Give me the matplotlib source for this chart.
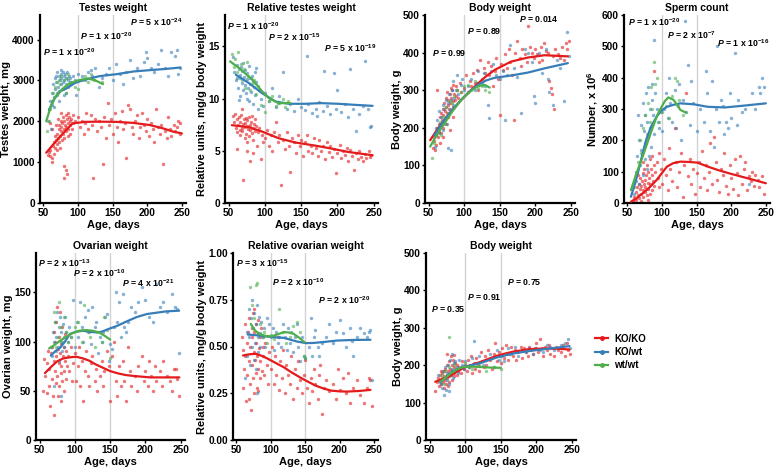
import numpy as np
import matplotlib
matplotlib.use("Agg")
import matplotlib.pyplot as plt
from matplotlib.lines import Line2D

plt.rcParams['font.family'] = ['Liberation Sans', 'DejaVu Sans']
plt.rcParams['font.weight'] = 'bold'
plt.rcParams['mathtext.fontset'] = 'custom'
plt.rcParams['mathtext.rm'] = 'Liberation Sans:bold'
plt.rcParams['mathtext.it'] = 'Liberation Sans:bold:italic'
plt.rcParams['mathtext.bf'] = 'Liberation Sans:bold'

RED, BLUE, GREEN = '#e41a1c', '#377eb8', '#4daf4a'

# ---------------- Panel 1: Testes weight ----------------
p1_red = [(56,1180),(58,1250),(60,1300),(60,1150),(62,1000),(63,1100),(64,1400),(65,1500),(66,1350),(67,1650),(68,1550),(69,1450),(70,1700),(70,1300),(71,1600),(72,1800),(72,1500),(73,1900),(74,1650),(75,1750),(75,2000),(76,1850),(77,1550),(77,1950),(78,2100),(78,1700),(79,1800),(80,2000),(80,1600),(81,1900),(82,2150),(82,1750),(83,1850),(84,2050),(84,700),(85,2200),(85,1950),(86,1800),(86,1650),(87,2100),(88,2000),(88,1700),(89,1900),(90,2050),(91,1800),(92,2150),(93,1950),(95,2000),(80,900),(79,600),(82,800),(65,1200),(68,1900),(74,1350),(76,2200),(71,2050),(60,1950),(62,1800),
          (100,2100),(103,1850),(105,2000),(108,1700),(110,1950),(112,2200),(115,1800),(118,2150),(120,1900),(122,600),(125,2050),(128,1750),(130,2000),(133,1850),(136,950),(138,2100),(140,1600),(143,2450),(145,1900),(148,2050),(150,1700),(153,2200),(156,1850),(158,1500),(160,2000),(163,2250),(165,1800),(168,1950),(170,1100),(172,2400),(175,2300),(178,1850),(180,1700),(183,2000),(185,2150),(188,1600),(190,1850),(193,2200),(195,1900),(198,1750),(200,2050),(203,1650),(205,1950),(208,1800),(210,1500),(213,2300),(215,1850),(218,1700),(220,1900),(223,950),(225,1750),(228,1600),(230,2100),(233,1800),(235,1650),(238,1900),(240,1750),(243,1850),(245,2000),(247,1700),(248,1950)]
p1_blue = [(56,2000),(58,2300),(60,2500),(61,1800),(62,2700),(63,2400),(64,2900),(65,2600),(66,3050),(67,2800),(68,3100),(69,2700),(70,2950),(70,3200),(71,2850),(72,3100),(73,2750),(74,3000),(75,3150),(75,2900),(76,3050),(77,2800),(78,3200),(78,2950),(79,3100),(80,2650),(80,3000),(81,3150),(82,2900),(83,3050),(84,3200),(85,2850),(86,3000),(87,3100),(88,2950),(89,3050),(90,2900),(92,3100),(95,3000),(97,2650),(100,3150),(65,2350),(72,2500),(76,3250),(83,2700),
           (105,3100),(110,3000),(115,3200),(118,3250),(120,3100),(125,3300),(130,2850),(135,3050),(140,3150),(145,3300),(150,3000),(155,3400),(160,3150),(165,2900),(170,3200),(175,3500),(180,3050),(185,3300),(190,3100),(195,3450),(198,3700),(200,3550),(205,3300),(210,3200),(215,3400),(220,3750),(225,3300),(230,3100),(235,3700),(240,3600),(243,3750),(245,3150),(247,3300)]
p1_green = [(55,1750),(58,2000),(60,2300),(62,2500),(64,2700),(66,2850),(68,2950),(70,2650),(72,3000),(74,2900),(76,3100),(78,2800),(80,3000),(82,2700),(84,3050),(86,3150),(88,2900),(90,2950),(95,2850),(100,2800),(105,3000),(110,3100),(115,2950),(118,3150),(120,3050),(123,3000),(135,2950)]
p1_red_fit = [(54,1230),(65,1450),(78,1700),(92,1947),(110,1985),(130,1990),(155,1985),(180,1960),(204,1906),(222,1830),(238,1743),(250,1703)]
p1_blue_fit = [(58,2273),(66,2560),(75,2740),(83,2803),(95,2930),(107,3006),(131,3104),(156,3153),(180,3218),(204,3251),(228,3283),(248,3316)]
p1_green_fit = [(54,2000),(60,2330),(66,2560),(71,2680),(80,2830),(88,2925),(100,3000),(114,3047),(125,3000),(136,2909)]

# ---------------- Panel 2: Relative testes weight ----------------
p2_red = [(56,8.3),(58,7.8),(59,8.5),(60,7.2),(61,8.0),(62,6.8),(63,7.5),(64,8.2),(65,7.0),(66,6.5),(66,7.8),(67,8.4),(68,7.2),(69,6.9),(70,7.6),(70,2.2),(71,8.0),(72,7.3),(72,6.2),(73,7.7),(74,8.1),(74,6.6),(75,7.4),(76,7.9),(76,5.8),(77,7.1),(78,8.2),(78,6.4),(79,7.5),(80,4.0),(80,7.0),(81,7.8),(82,6.7),(82,8.3),(83,7.2),(84,6.0),(85,7.6),(86,8.0),(87,6.9),(88,7.4),(89,5.5),(90,6.8),(92,7.2),(94,4.2),(96,6.5),(98,5.8),(62,5.2),(68,9.0),(75,5.0),(84,4.8),
          (100,6.2),(103,7.0),(105,5.5),(108,6.5),(110,5.0),(112,6.8),(115,7.8),(118,5.8),(120,6.5),(122,1.7),(125,6.0),(128,5.2),(130,6.8),(133,5.5),(135,3.0),(138,6.2),(140,5.8),(143,4.8),(145,6.5),(148,5.5),(150,6.0),(153,4.5),(155,5.8),(158,6.5),(160,5.0),(163,5.5),(165,4.8),(168,6.2),(170,5.3),(173,4.5),(175,6.0),(178,5.0),(180,5.5),(183,4.2),(185,5.8),(188,4.9),(190,5.5),(193,4.4),(195,5.2),(198,2.9),(200,4.8),(203,5.6),(205,4.3),(208,5.0),(210,4.6),(213,5.3),(215,4.0),(218,5.1),(220,4.5),(223,3.2),(225,4.8),(228,4.2),(230,5.0),(233,4.4),(235,4.0),(238,4.7),(240,4.3),(243,5.0),(245,4.4),(247,4.6)]
p2_blue = [(56,14.0),(58,12.5),(60,11.8),(61,13.2),(62,12.0),(63,11.0),(64,12.8),(65,10.2),(66,12.3),(67,13.0),(68,11.5),(69,12.6),(70,10.8),(70,13.4),(71,12.1),(72,11.3),(73,12.7),(74,10.5),(75,11.9),(76,12.4),(77,11.0),(78,13.1),(78,9.8),(79,12.0),(80,11.4),(81,10.6),(82,12.2),(83,11.7),(84,9.5),(85,11.1),(86,12.5),(87,10.3),(88,11.6),(90,9.0),(92,10.8),(95,10.0),(98,9.3),(64,9.9),(76,10.0),(88,12.9),
           (100,10.5),(105,9.8),(110,11.0),(115,9.2),(118,9.6),(120,10.2),(125,12.5),(130,9.0),(135,9.5),(140,8.8),(145,10.0),(150,9.2),(155,8.9),(158,14.1),(160,9.5),(165,8.6),(170,9.0),(172,8.3),(175,9.7),(180,8.8),(182,12.6),(185,9.3),(190,8.5),(195,12.4),(198,9.0),(200,10.8),(205,8.7),(210,9.5),(215,8.2),(218,12.8),(222,9.0),(225,6.9),(230,8.5),(235,9.3),(238,13.6),(242,9.0),(245,7.3),(247,7.4)]
p2_green = [(55,14.3),(57,13.0),(59,13.8),(61,12.5),(63,14.5),(65,12.0),(67,13.3),(69,11.8),(71,12.8),(73,11.0),(75,13.5),(77,12.2),(79,10.8),(81,12.0),(83,11.5),(85,11.8),(88,10.4),(90,11.2),(95,9.4),(100,8.7),(105,9.8),(110,10.2),(115,9.3),(120,9.6),(125,10.0),(128,9.2),(132,9.8)]
p2_red_fit = [(54.5,7.45),(78,7.26),(96,6.84),(119,6.2),(142,5.79),(169,5.5),(192,5.21),(214.5,4.89),(248.6,4.57)]
p2_blue_fit = [(60,12.28),(78,11.48),(96,10.52),(114.5,9.72),(132.7,9.5),(155.5,9.5),(178,9.56),(201,9.5),(223.6,9.4),(248.6,9.3)]
p2_green_fit = [(52,13.56),(64.5,12.92),(82.7,11.8),(96.4,10.68),(105.5,10.04),(119,9.56),(135,9.56)]

# ---------------- Panel 3: Body weight (male) ----------------
p3_red = [(56,145),(58,165),(59,140),(60,180),(61,155),(62,200),(63,175),(64,210),(65,190),(66,230),(67,205),(68,185),(68,240),(69,220),(70,250),(70,200),(71,235),(72,215),(72,265),(73,245),(74,225),(74,280),(75,255),(76,240),(76,295),(77,260),(78,230),(78,275),(79,250),(80,290),(80,265),(81,305),(82,245),(82,280),(83,300),(84,270),(85,315),(85,255),(86,290),(87,275),(88,310),(89,285),(90,300),(92,280),(94,320),(96,295),(62,300),(66,160),(70,175),(75,210),(80,195),(84,230),
          (100,305),(103,340),(105,295),(108,325),(110,310),(112,345),(115,320),(118,355),(120,300),(123,380),(125,330),(128,360),(130,345),(133,375),(135,340),(138,365),(140,310),(143,350),(145,385),(148,330),(150,235),(152,370),(155,355),(158,395),(160,360),(163,410),(165,375),(168,340),(170,220),(172,400),(175,430),(178,385),(180,365),(182,410),(185,395),(188,375),(190,470),(192,415),(195,400),(198,385),(200,410),(203,395),(205,375),(208,415),(210,380),(212,425),(215,405),(218,400),(220,325),(222,305),(224,290),(225,390),(226,250),(228,410),(232,395),(235,385),(238,415),(240,380),(243,425),(245,410),(247,430)]
p3_blue = [(57,175),(59,150),(60,200),(62,220),(64,185),(65,245),(66,210),(68,230),(70,260),(71,195),(72,250),(74,275),(75,230),(76,210),(77,265),(78,145),(79,290),(80,250),(81,275),(82,140),(83,300),(84,260),(85,325),(86,280),(88,300),(90,340),(92,290),(95,315),(97,330),
           (100,300),(105,310),(110,330),(115,300),(118,320),(120,350),(125,320),(128,345),(130,310),(133,260),(135,225),(138,350),(140,370),(145,340),(150,330),(155,350),(157,220),(160,340),(165,420),(170,360),(175,335),(180,240),(185,410),(190,400),(195,375),(198,285),(200,265),(205,400),(210,345),(215,410),(218,330),(220,295),(225,260),(230,380),(235,360),(240,270),(245,455),(247,390)]
p3_green = [(55,120),(58,160),(60,180),(63,200),(66,215),(68,180),(70,230),(73,210),(75,255),(78,240),(80,270),(83,265),(86,285),(90,300),(95,295),(100,310),(105,315),(110,300),(115,325),(120,305),(125,310),(130,300),(135,295)]
p3_red_fit = [(52.3,167),(62,195),(72.5,221),(84,248),(96,274),(108,297),(119.5,318),(131,337),(143,354),(166,376),(190,387),(213,393),(246,390)]
p3_blue_fit = [(58,180),(72.5,222),(84,249),(96,275),(108,297),(120,315),(131,326),(143,333),(166,339),(190,347),(213,358),(246,372)]
p3_green_fit = [(52.3,150),(62,183),(72.5,212),(84,245),(96,274),(108,296),(119.5,311),(129,314),(136,307)]

# ---------------- Panel 4: Sperm count ----------------
p4_red = [(58,5),(60,20),(61,0),(62,35),(63,10),(64,50),(65,25),(66,60),(67,15),(68,45),(68,80),(69,30),(70,55),(70,5),(71,70),(72,40),(72,95),(73,20),(74,60),(74,110),(75,35),(76,75),(76,50),(77,90),(78,25),(78,120),(79,65),(80,45),(80,100),(81,80),(82,30),(82,140),(83,60),(84,110),(85,40),(85,90),(86,150),(87,70),(88,120),(88,420),(89,55),(90,100),(92,130),(94,80),(95,160),(96,50),(98,110),(65,90),(72,130),(80,10),
          (100,60),(103,140),(105,90),(108,40),(110,175),(112,110),(115,70),(118,240),(120,130),(122,50),(125,100),(128,160),(130,20),(132,120),(135,350),(137,85),(140,140),(142,60),(145,110),(148,30),(150,95),(153,130),(155,50),(158,165),(160,80),(163,120),(165,40),(168,100),(170,190),(172,60),(175,210),(178,130),(180,75),(183,35),(185,110),(188,90),(190,160),(193,55),(195,30),(198,120),(200,80),(203,45),(205,140),(208,95),(210,25),(213,150),(215,60),(218,110),(220,130),(223,40),(225,85),(228,70),(230,100),(233,55),(235,90),(238,75),(240,50),(245,85),(247,30)]
p4_blue = [(60,30),(62,70),(63,100),(64,150),(65,280),(66,60),(67,200),(68,120),(70,250),(70,170),(72,90),(72,320),(74,230),(75,140),(75,280),(76,190),(77,350),(78,110),(78,260),(80,210),(80,370),(81,150),(82,300),(83,240),(84,180),(85,330),(86,380),(87,280),(88,520),(89,220),(90,350),(92,300),(94,260),(96,240),(98,290),
           (100,230),(103,300),(105,350),(108,270),(110,400),(112,320),(115,260),(118,360),(120,240),(123,310),(125,380),(128,200),(130,330),(133,580),(135,290),(138,440),(140,250),(142,390),(145,320),(150,230),(155,300),(160,260),(163,420),(165,350),(170,230),(172,390),(175,180),(178,300),(180,500),(183,260),(185,330),(188,310),(190,220),(193,260),(195,240),(198,350),(200,270),(205,480),(208,250),(210,330),(215,290),(220,300),(225,60),(230,350),(235,300),(240,370),(242,350),(245,400),(247,370)]
p4_green = [(60,50),(63,90),(65,130),(68,200),(70,160),(72,240),(74,180),(76,280),(78,220),(80,320),(82,260),(84,370),(86,300),(88,450),(90,380),(92,400),(95,260),(100,290),(105,310),(110,270),(115,340),(118,400),(122,390),(125,330),(130,280)]
p4_red_fit = [(55,4),(63,15),(72,31),(82,50),(92,73),(100,96),(107,116),(116,127),(126.5,132),(138,131),(151,129),(165,117),(181,105),(198,94),(215,84),(232,74),(250,63)]
p4_blue_fit = [(55,20),(60,55),(65,95),(71,150),(77,201),(84,243),(92,275),(99,295),(107,307),(116,313),(126.5,318),(146,315),(166,307),(191,305),(215,310),(250,318)]
p4_green_fit = [(55,41),(63,95),(72,148),(80,200),(87,244),(93,280),(99.4,307),(104,325),(109,337),(116.7,329),(122,312),(126.5,297),(135,288)]

# ---------------- Panel 5: Ovarian weight ----------------
p5_red = [(55,50),(57,82),(58,65),(60,48),(61,78),(62,90),(63,55),(64,72),(65,35),(66,88),(67,62),(68,95),(69,45),(70,80),(70,110),(71,25),(72,70),(72,100),(73,58),(74,85),(74,120),(75,65),(76,92),(76,45),(77,78),(78,105),(78,55),(79,88),(79,130),(80,68),(80,98),(81,75),(82,115),(82,60),(83,85),(84,95),(84,50),(85,70),(86,108),(86,80),(87,62),(88,90),(89,75),(90,85),(92,70),(94,95),(96,60),(98,78),(75,135),(80,40),
          (100,88),(102,60),(104,75),(106,95),(108,55),(110,80),(112,40),(114,70),(116,90),(118,65),(120,55),(123,78),(125,85),(128,60),(130,72),(132,50),(135,65),(138,80),(140,55),(142,70),(145,90),(148,75),(150,40),(152,85),(155,100),(158,60),(160,45),(163,75),(165,55),(168,80),(170,60),(172,40),(175,95),(178,70),(180,55),(185,65),(188,50),(190,75),(195,85),(198,60),(200,70),(203,55),(205,80),(208,65),(210,50),(213,75),(215,60),(220,70),(223,55),(225,80),(230,65),(235,60),(238,50),(240,72),(243,72),(245,62),(247,45)]
p5_blue = [(66,95),(68,85),(69,110),(70,100),(71,55),(72,120),(73,90),(74,105),(75,130),(76,95),(77,115),(78,80),(79,125),(80,100),(80,45),(81,110),(82,90),(83,118),(84,105),(85,95),(86,125),(88,110),(90,100),(92,115),(95,105),(98,142),
           (100,95),(103,120),(105,105),(108,140),(110,115),(112,100),(115,125),(118,132),(120,110),(123,98),(125,135),(128,115),(130,120),(133,88),(135,105),(138,100),(140,110),(143,125),(145,128),(148,80),(150,98),(152,92),(155,115),(158,150),(160,120),(163,140),(165,105),(168,148),(170,115),(172,110),(175,120),(180,135),(185,130),(190,140),(195,155),(200,142),(205,125),(210,120),(215,158),(220,135),(225,140),(230,130),(238,148),(242,135),(245,133),(247,88)]
p5_green = [(70,130),(72,120),(74,95),(76,105),(78,140),(80,115),(82,100),(85,125),(88,110),(90,100),(95,105),(100,115),(105,120),(110,100),(113,137),(118,110),(122,105),(128,95),(132,110),(138,100),(142,125),(145,112),(150,83)]
p5_red_fit = [(57.7,68),(66,74),(75,80),(84,83),(93,84),(102,84.6),(111,83),(120.5,80.6),(129,77),(138.6,73.8),(150,70),(161,67.7),(172,66),(184,65),(207,63.6),(248,63.6)]
p5_blue_fit = [(66,85.7),(72,90),(79.5,94),(86,100),(93,107.7),(102,110),(111.4,111),(120,110),(129.5,109.4),(138,110),(147.7,112.8),(160,116),(175,121),(188,125),(202,128),(229.5,130.7),(247.7,131.4)]
p5_green_fit = [(63.6,93),(70,96),(79.5,101),(88,105),(97.7,109),(106,111),(116,111.7),(125,111),(134,109.4),(142,106),(150,102)]

# ---------------- Panel 6: Relative ovarian weight ----------------
p6_red = [(58,0.55),(59,0.28),(60,0.48),(61,0.38),(62,0.62),(63,0.45),(64,0.21),(65,0.52),(66,0.35),(67,0.58),(68,0.42),(69,0.65),(70,0.30),(70,0.50),(71,0.16),(72,0.60),(72,0.40),(73,0.55),(74,0.33),(74,0.68),(75,0.47),(76,0.25),(76,0.58),(77,0.43),(78,0.62),(78,0.36),(79,0.52),(80,0.28),(80,0.45),(81,0.57),(82,0.38),(82,0.64),(83,0.49),(84,0.33),(85,0.55),(85,0.42),(86,0.60),(87,0.37),(88,0.50),(89,0.45),(90,0.35),(92,0.52),(94,0.40),(96,0.30),(98,0.47),(68,0.22),(75,0.70),(82,0.26),
          (100,0.38),(102,0.50),(104,0.30),(106,0.45),(108,0.35),(110,0.55),(112,0.27),(114,0.42),(116,0.33),(118,0.48),(120,0.25),(122,0.40),(125,0.35),(128,0.30),(130,0.45),(132,0.22),(135,0.38),(138,0.28),(140,0.42),(142,0.32),(145,0.25),(148,0.35),(150,0.43),(152,0.28),(155,0.20),(158,0.33),(160,0.26),(163,0.38),(165,0.30),(168,0.22),(170,0.35),(172,0.40),(175,0.14),(178,0.28),(180,0.32),(185,0.26),(190,0.30),(195,0.22),(198,0.38),(200,0.27),(205,0.33),(210,0.25),(213,0.36),(215,0.20),(220,0.28),(225,0.32),(230,0.24),(235,0.20),(240,0.28),(243,0.33),(245,0.32),(247,0.18)]
p6_blue = [(63,0.33),(65,0.58),(66,0.45),(68,0.70),(69,0.55),(70,0.40),(71,0.65),(72,0.50),(73,0.75),(74,0.60),(75,0.43),(76,0.68),(77,0.52),(78,0.38),(79,0.62),(80,0.25),(80,0.72),(81,0.55),(82,0.47),(83,0.66),(84,0.57),(85,0.50),(86,0.63),(88,0.55),(90,0.60),(92,0.50),(95,0.65),(98,0.62),
           (100,0.55),(103,0.60),(105,0.48),(108,0.58),(110,0.52),(112,0.55),(115,0.50),(118,0.62),(120,0.55),(123,0.48),(125,0.60),(128,0.52),(130,0.58),(133,0.47),(135,0.55),(138,0.62),(140,0.50),(143,0.42),(145,0.55),(148,0.45),(150,0.44),(155,0.50),(158,0.65),(160,0.45),(163,0.55),(165,0.59),(168,0.50),(170,0.45),(175,0.52),(180,0.55),(185,0.62),(190,0.52),(195,0.58),(200,0.64),(205,0.57),(210,0.50),(215,0.60),(218,0.53),(220,0.45),(225,0.55),(230,0.60),(235,0.57),(240,0.55),(243,0.58),(245,0.59),(247,0.32)]
p6_green = [(70,0.82),(72,0.72),(74,0.60),(76,0.65),(78,0.83),(80,0.84),(82,0.57),(85,0.62),(88,0.55),(90,0.58),(95,0.52),(100,0.56),(105,0.54),(112,0.70),(118,0.58),(122,0.52),(128,0.55),(132,0.61),(138,0.63),(142,0.58),(148,0.45),(150,0.44)]
p6_red_fit = [(59.6,0.452),(68,0.458),(78,0.461),(87,0.450),(96,0.434),(107,0.412),(119,0.389),(130,0.362),(142,0.336),(154,0.312),(165,0.291),(177,0.275),(188,0.264),(200,0.260),(211,0.259),(228,0.262),(245,0.268)]
p6_blue_fit = [(66.5,0.564),(80,0.560),(91.7,0.554),(105,0.550),(119,0.546),(128,0.537),(137.6,0.527),(151,0.518),(162,0.519),(174,0.523),(197,0.532),(220,0.535),(245,0.536)]
p6_green_fit = [(71,0.621),(76,0.590),(82.6,0.568),(92,0.557),(101,0.554),(110,0.565),(119,0.577),(126,0.575),(133,0.568),(141,0.548),(149,0.523)]

# ---------------- Panel 7: Body weight (female) ----------------
p7_red = [(58,130),(60,155),(62,165),(63,145),(64,175),(65,160),(66,150),(67,180),(68,165),(69,155),(70,185),(70,140),(71,170),(72,160),(72,190),(73,150),(74,175),(74,200),(75,165),(76,185),(76,145),(77,170),(78,210),(78,155),(79,190),(80,175),(80,225),(81,160),(82,200),(82,185),(83,215),(84,170),(84,195),(85,180),(86,205),(87,190),(88,175),(89,200),(90,185),(92,195),(94,180),(96,210),(98,190),(66,185),(75,230),(85,228),
          (100,200),(102,185),(104,215),(106,195),(108,225),(110,180),(112,205),(114,190),(116,220),(118,200),(120,185),(122,235),(124,210),(126,195),(128,225),(130,200),(132,240),(135,215),(138,190),(140,230),(142,260),(145,210),(148,235),(150,205),(152,245),(155,220),(158,255),(160,215),(162,230),(165,250),(168,225),(170,240),(172,215),(175,235),(178,250),(180,220),(183,245),(185,235),(188,225),(190,250),(193,240),(195,230),(198,245),(200,260),(203,235),(205,270),(208,245),(210,225),(213,250),(215,240),(218,255),(220,230),(223,245),(225,225),(228,250),(230,240),(235,235),(238,255),(240,225),(243,260),(245,240),(247,230)]
p7_blue = [(62,175),(64,160),(66,150),(68,140),(69,185),(70,120),(71,165),(72,195),(73,135),(74,180),(75,160),(76,200),(77,150),(78,130),(79,215),(80,175),(81,190),(82,230),(83,165),(84,205),(85,185),(86,210),(88,195),(90,180),(92,215),(95,200),(98,190),
           (100,210),(105,195),(110,220),(112,265),(115,205),(120,225),(125,200),(130,215),(135,230),(140,195),(145,240),(148,215),(150,225),(155,210),(160,245),(165,230),(170,250),(175,225),(180,240),(185,235),(190,245),(195,230),(200,245),(205,240),(210,235),(215,255),(220,250),(225,240),(230,245),(235,255),(240,260),(245,270),(247,245)]
p7_green = [(65,160),(68,175),(70,150),(72,185),(75,170),(77,275),(78,195),(80,180),(85,200),(90,190),(95,195),(100,205),(110,190),(120,200),(130,185),(140,195),(150,190)]
p7_red_fit = [(58,155.7),(67,162),(76.4,169),(88,182),(99,194),(111,202),(122,209),(133,217),(144.5,225),(156,231),(167,236),(190,243),(212.7,244.7),(230,244),(246.8,242)]
p7_blue_fit = [(65,153),(72,166),(81,182),(90,190),(99,196),(111,201),(122,206),(133,213),(144.5,220.6),(156,226),(167,231),(190,238),(212.7,243),(230,247),(246.8,251)]
p7_green_fit = [(65,155.7),(72,166),(81,180),(88,188),(94.5,194),(103,196),(112.7,196),(122,195),(131,194),(140,193.5),(150,193)]

panels = [
    dict(pos=(40, 15, 186, 203), title='Testes weight', ylabel='Testes weight, mg',
         ylim=(0, 4600), yticks=[0, 1000, 2000, 3000, 4000], ytl=None,
         data=(p1_red, p1_blue, p1_green), fits=(p1_red_fit, p1_blue_fit, p1_green_fit),
         pv=[('1', '-20', 43, 52.5), ('1', '-20', 80, 36.5), ('5', '-24', 130, 22.5)]),
    dict(pos=(225, 15, 378, 203), title='Relative testes weight', ylabel='Relative units, mg/g body weight',
         ylim=(0, 18), yticks=[0, 5, 10, 15], ytl=None,
         data=(p2_red, p2_blue, p2_green), fits=(p2_red_fit, p2_blue_fit, p2_green_fit),
         pv=[('1', '-20', 227, 26.5), ('2', '-15', 268, 37.5), ('5', '-19', 324, 48.5)]),
    dict(pos=(425, 15, 575, 203), title='Body weight', ylabel='Body weight, g',
         ylim=(0, 500), yticks=[0, 100, 200, 300, 400, 500], ytl=None,
         data=(p3_red, p3_blue, p3_green), fits=(p3_red_fit, p3_blue_fit, p3_green_fit),
         pv=[('0.99', None, 432, 52.5), ('0.89', None, 467, 30.5), ('0.014', None, 519, 18.5)]),
    dict(pos=(624, 15, 770, 203), title='Sperm count', ylabel=r'Number, x 10$^{6}$',
         ylim=(0, 600), yticks=[0, 100, 200, 300, 400, 500, 600], ytl=None,
         data=(p4_red, p4_blue, p4_green), fits=(p4_red_fit, p4_blue_fit, p4_green_fit),
         pv=[('1', '-20', 628, 22.5), ('2', '-7', 667, 35), ('1', '-16', 717, 43.5)]),
    dict(pos=(36, 253, 185, 440), title='Ovarian weight', ylabel='Ovarian weight, mg',
         ylim=(0, 190), yticks=[0, 50, 100, 150], ytl=None,
         data=(p5_red, p5_blue, p5_green), fits=(p5_red_fit, p5_blue_fit, p5_green_fit),
         pv=[('2', '-13', 38, 263.5), ('2', '-10', 73, 273.5), ('4', '-21', 122, 283)]),
    dict(pos=(233, 253, 378, 440), title='Relative ovarian weight', ylabel='Relative units, mg/g body weight',
         ylim=(0, 1.0), yticks=[0, 0.25, 0.5, 0.75, 1.0], ytl=['0.00', '0.25', '0.50', '0.75', '1.00'],
         data=(p6_red, p6_blue, p6_green), fits=(p6_red_fit, p6_blue_fit, p6_green_fit),
         pv=[('3', '-15', 236, 263.5), ('2', '-10', 272, 282), ('2', '-20', 318, 300)]),
    dict(pos=(426, 253, 576, 440), title='Body weight', ylabel='Body weight, g',
         ylim=(0, 500), yticks=[0, 100, 200, 300, 400, 500], ytl=None,
         data=(p7_red, p7_blue, p7_green), fits=(p7_red_fit, p7_blue_fit, p7_green_fit),
         pv=[('0.35', None, 431, 308.5), ('0.91', None, 467, 297), ('0.75', None, 507, 282)]),
]

W, H = 778, 467
fig = plt.figure(figsize=(W / 100, H / 100), dpi=100)
colors = (RED, BLUE, GREEN)

for p in panels:
    x0, y0, x1, y1 = p['pos']
    ax = fig.add_axes([x0 / W, 1 - y1 / H, (x1 - x0) / W, (y1 - y0) / H])
    ax.set_xlim(45, 256)
    ax.set_ylim(*p['ylim'])
    for v in (100, 150):
        ax.axvline(v, color='#d3d3d3', lw=1.0, zorder=0)
    for pts, c in zip(p['data'], colors):
        a = np.array(pts, dtype=float)
        ax.scatter(a[:, 0], a[:, 1], s=6, color=c, alpha=0.6, lw=0, zorder=2)
    for fit, c in zip(p['fits'], colors):
        a = np.array(fit, dtype=float)
        ax.plot(a[:, 0], a[:, 1], color=c, lw=1.6, zorder=3,
                solid_capstyle='round', solid_joinstyle='round')
    ax.set_xticks([50, 100, 150, 200, 250])
    ax.set_yticks(p['yticks'])
    if p['ytl']:
        ax.set_yticklabels(p['ytl'])
    for s in ('top', 'right'):
        ax.spines[s].set_visible(False)
    for s in ('left', 'bottom'):
        ax.spines[s].set_linewidth(1.6)
    ax.tick_params(axis='both', labelsize=7.3, length=2.5, width=1.0, pad=1.2)
    for lab in ax.get_xticklabels() + ax.get_yticklabels():
        lab.set_fontweight('bold')
    ax.set_xlabel('Age, days', fontsize=8, fontweight='bold', labelpad=1)
    ax.set_ylabel(p['ylabel'], fontsize=8, fontweight='bold', labelpad=1)
    ax.set_title(p['title'], fontsize=7.5, fontweight='bold', pad=3)
    for mant, exp, px, py in p['pv']:
        if exp is None:
            s = r'$\it{P}$ = ' + mant
        else:
            s = r'$\it{P}$ = ' + mant + r' x 10$^{' + exp.replace('-', r'\mathrm{-}') + r'}$'
        fig.text(px / W, 1 - py / H, s, fontsize=6.3, fontweight='bold', ha='left', va='center')

handles = [Line2D([0], [0], color=c, lw=1.6, marker='o', markersize=2.5) for c in colors]
fig.legend(handles, ['KO/KO', 'KO/wt', 'wt/wt'], loc='center left',
           bbox_to_anchor=(586 / W, 1 - 352 / H), frameon=False,
           handlelength=1.4, handletextpad=0.6, labelspacing=0.35,
           prop={'weight': 'bold', 'size': 7})

fig.savefig('out.png', dpi=100)
